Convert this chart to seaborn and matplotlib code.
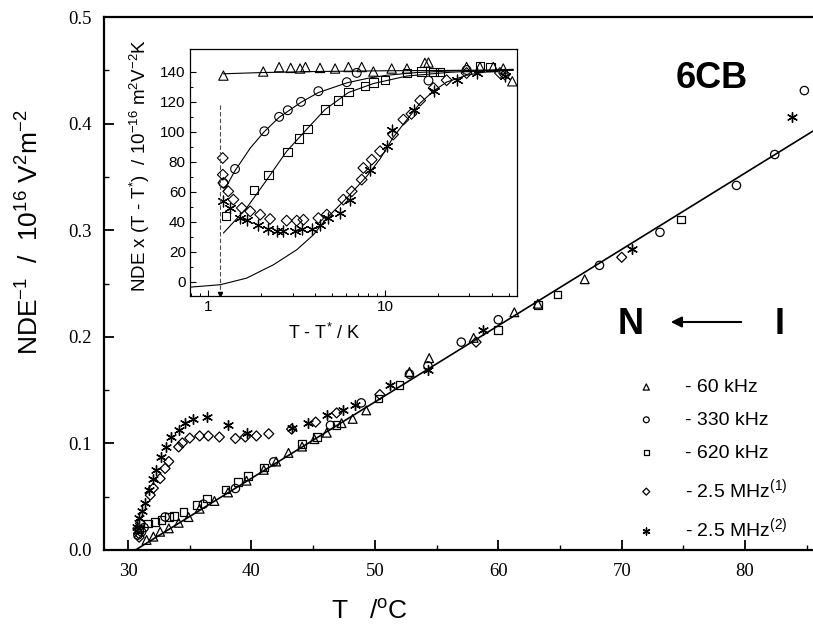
import matplotlib
matplotlib.use("Agg")
import matplotlib.pyplot as plt
import seaborn as sns

# ---- main plot: NDE^-1 vs T ----
tri_T = [31.5, 32.05, 32.6, 33.3, 34.1, 34.9, 35.8, 37.0, 38.1, 39.6, 41.0, 42.0, 43.0,
         44.1, 45.1, 46.1, 47.3, 48.2, 49.3, 52.8, 54.4, 58.0, 61.3, 63.2, 67.0]
tri_v = [0.0094, 0.0125, 0.0171, 0.0203, 0.0255, 0.0309, 0.0387, 0.046, 0.054, 0.065,
         0.0752, 0.083, 0.0911, 0.097, 0.104, 0.110, 0.119, 0.123, 0.131, 0.167, 0.180,
         0.199, 0.223, 0.231, 0.254]

circ_T = [30.8, 31.1, 31.3, 33.0, 36.1, 38.7, 41.8, 46.4, 48.9, 52.8, 54.3, 57.0, 60.0,
          68.2, 73.1, 79.3, 82.4, 84.8]
circ_v = [0.014, 0.017, 0.021, 0.031, 0.043, 0.0577, 0.0827, 0.117, 0.138, 0.165, 0.1727,
          0.195, 0.216, 0.267, 0.298, 0.342, 0.371, 0.431]

sq_T = [30.9, 31.6, 32.2, 32.7, 33.3, 33.7, 34.5, 35.6, 36.4, 37.9, 38.9, 39.7, 41.0,
        44.1, 45.3, 46.9, 50.3, 52.0, 60.0, 63.2, 64.8, 74.8]
sq_v = [0.0194, 0.025, 0.0265, 0.028, 0.031, 0.032, 0.0359, 0.042, 0.0484, 0.0568, 0.064,
        0.0693, 0.0774, 0.0993, 0.106, 0.117, 0.142, 0.155, 0.2066, 0.230, 0.2397, 0.310]

dia_T = [30.8, 30.85, 30.9, 31.0, 31.8, 32.05, 32.6, 33.0, 33.3, 34.1, 34.4, 35.0, 35.8,
         36.5, 37.4, 38.7, 39.5, 40.4, 41.4, 43.25, 45.2, 46.9, 50.4, 58.2, 70.0]
dia_v = [0.0203, 0.0156, 0.012, 0.025, 0.0515, 0.058, 0.067, 0.0765, 0.083, 0.0967, 0.1005,
         0.105, 0.107, 0.107, 0.106, 0.1046, 0.106, 0.107, 0.109, 0.1134, 0.120, 0.1286,
         0.1458, 0.195, 0.2746]

star_T = [30.7, 30.9, 31.1, 31.4, 31.7, 32.05, 32.3, 32.7, 33.1, 33.5, 34.1, 34.6, 35.3,
          36.4, 38.1, 39.6, 43.25, 44.6, 46.1, 47.4, 48.4, 51.2, 54.3, 58.8, 70.8, 83.8]
star_v = [0.0218, 0.0297, 0.037, 0.044, 0.056, 0.067, 0.075, 0.087, 0.097, 0.106, 0.113,
          0.119, 0.123, 0.1248, 0.1177, 0.110, 0.114, 0.119, 0.127, 0.131, 0.136, 0.155,
          0.1685, 0.2066, 0.282, 0.406]

fit_T = [30.6, 85.5]
fit_v = [0.0, 0.393]

# ---- inset: NDE x (T - T*) vs T - T* ----
in_tri_x = [1.22, 2.05, 2.52, 2.93, 3.31, 3.55, 4.29, 5.22, 6.21, 7.38, 8.59, 10.9, 13.3,
            16.8, 17.6, 28.9, 34.4, 40.9, 46.6, 52.4]
in_tri_y = [137.3, 140, 142.9, 142.4, 142, 143, 142.4, 142, 143, 143, 140, 142, 142,
            145.8, 146, 143, 143, 143, 142, 133.5]

in_circ_x = [1.22, 1.42, 2.08, 2.52, 2.82, 3.35, 4.2, 6.08, 6.92, 17.6, 28.9]
in_circ_y = [65.8, 75.1, 100.2, 109.8, 114.2, 119.8, 126.9, 132.9, 139.1, 134, 141]

in_sq_x = [1.26, 1.82, 2.19, 2.81, 3.27, 3.64, 4.58, 5.40, 6.21, 7.71, 8.59, 10.0, 13.3,
           16.1, 18.8, 20.5, 34.4, 39.5]
in_sq_y = [43.6, 60.9, 71.3, 86.2, 95.3, 101.8, 114.7, 120.7, 126.4, 130.4, 132.7, 134.2,
           139, 140, 139.8, 139.8, 143.6, 143]

in_dia_x = [1.21, 1.21, 1.22, 1.30, 1.39, 1.55, 1.73, 1.97, 2.24, 2.78, 3.17, 3.46, 4.2,
            4.69, 5.81, 6.48, 7.38, 7.54, 8.41, 9.37, 11.1, 12.7, 14.1, 15.8, 18.8, 22.3,
            28.9, 44.6, 47.6]
in_dia_y = [82.4, 71.3, 65.8, 60.2, 54.7, 49.1, 46.9, 44.7, 41.8, 40.7, 40.7, 41.3, 42.4,
            44.7, 54.7, 60.2, 68, 75.8, 81.3, 86.9, 98, 108, 111.8, 120.7, 129, 134.2,
            139, 139, 138]

in_star_x = [1.22, 1.33, 1.52, 1.65, 1.92, 2.19, 2.44, 2.66, 3.10, 3.38, 3.85, 4.29, 4.78,
             5.57, 6.34, 8.23, 10.2, 10.9, 14.5, 18.8, 25.4, 33.0, 47.6]
in_star_y = [53.6, 49.1, 42.4, 40.9, 38, 35.1, 33.6, 34, 34, 35.1, 35.1, 38, 42.4, 45.8,
             54.7, 74.7, 90.2, 101.3, 114.7, 126.9, 134.2, 139, 137.3]

# fit curves
fit_tri_x = [1.22, 2.0, 4.0, 10.0, 53.0]
fit_tri_y = [138.5, 139.3, 140, 140.5, 141]
fit_circ_x = [1.22, 1.42, 1.73, 2.08, 2.52, 3.35, 4.2, 6.1, 8.0, 10.2, 15.0, 25.0, 53.0]
fit_circ_y = [60, 74, 89, 100, 109.5, 119.5, 126, 132.5, 135.5, 137.5, 139.3, 140.5, 141]
fit_sq_x = [1.22, 1.65, 2.15, 2.78, 3.64, 4.58, 6.21, 8.59, 13.3, 23.3, 53.0]
fit_sq_y = [32.4, 49.1, 68, 86.9, 102, 114.7, 126, 132, 137, 139.5, 141.5]
fit_low_x = [0.79, 0.81, 1.17, 1.65, 2.34, 3.17, 3.94, 4.69, 6.08, 7.88, 9.4, 11.1, 12.7,
             15.8, 18.8, 22.3, 28.9, 36.0, 53.0]
fit_low_y = [-3.6, -3.5, -2, 2.4, 11.3, 21.3, 31.3, 42.4, 55.8, 70.2, 82, 96, 105, 119,
             127, 133, 137.5, 139.5, 141]

T_star_line = 1.16

sns.set_style("ticks")
plt.rcParams["font.family"] = ["Liberation Sans", "DejaVu Sans"]
plt.rcParams["mathtext.default"] = "regular"
for key in ["text.color", "axes.labelcolor", "xtick.color", "ytick.color", "axes.edgecolor"]:
    plt.rcParams[key] = "black"

fig = plt.figure(figsize=(8.13, 6.34), dpi=100)
ax = fig.add_axes([104 / 813, 1 - 550 / 634, 1 - 104 / 813, 533 / 634])

hollow = dict(facecolor="none", edgecolor="black", linewidth=0.9)
sns.lineplot(x=fit_T, y=fit_v, color="black", lw=1.2, ax=ax)
sns.scatterplot(x=tri_T, y=tri_v, marker="^", s=40, label="- 60 kHz", ax=ax, **hollow)
sns.scatterplot(x=circ_T, y=circ_v, marker="o", s=36, label="- 330 kHz", ax=ax, **hollow)
sns.scatterplot(x=sq_T, y=sq_v, marker="s", s=30, label="- 620 kHz", ax=ax, **hollow)
sns.scatterplot(x=dia_T, y=dia_v, marker="D", s=26, label="- 2.5 MHz$^{(1)}$", ax=ax, **hollow)
sns.scatterplot(x=star_T, y=star_v, marker=(6, 2, 0), s=50, color="black", linewidth=1.0,
                label="- 2.5 MHz$^{(2)}$", ax=ax)

ax.set_xlim(28.05, 85.5)
ax.set_ylim(0, 0.5)
ax.set_xticks([30, 40, 50, 60, 70, 80])
ax.set_xticks([35, 45, 55, 65, 75, 85], minor=True)
ax.set_yticks([0.0, 0.1, 0.2, 0.3, 0.4, 0.5])
ax.set_yticks([0.05, 0.15, 0.25, 0.35, 0.45], minor=True)
ax.set_yticklabels(["0.0", "0.1", "0.2", "0.3", "0.4", "0.5"])
ax.tick_params(which="major", direction="in", length=7, width=1.3, pad=9)
ax.tick_params(which="minor", direction="in", length=3.5, width=1.0)
for lab in ax.get_xticklabels() + ax.get_yticklabels():
    lab.set_fontfamily("Liberation Serif")
    lab.set_fontsize(13.5)
for s in ["left", "bottom", "top"]:
    ax.spines[s].set_linewidth(1.6)
ax.spines["right"].set_visible(False)
ax.set_xlabel("")
ax.set_ylabel("")

handles, labels = ax.get_legend_handles_labels()
ax.legend(handles, labels, loc="upper left", bbox_to_anchor=(0.783, 0.403),
          bbox_transform=fig.transFigure, frameon=False, fontsize=14, markerscale=0.7,
          handlelength=1.0, handletextpad=1.5, labelspacing=0.78, borderpad=0,
          borderaxespad=0)

fig.text(0.037, 1 - 232 / 634, "NDE$^{-1}$  /  10$^{16}$ V$^{2}$m$^{-2}$",
         rotation=90, ha="center", va="center", fontsize=19)
fig.text(369 / 813, 1 - 612 / 634, "T   /$^{o}$C", ha="center", va="center", fontsize=19)
fig.text(712 / 813, 1 - 78 / 634, "6CB", ha="center", va="center", fontsize=26,
         fontweight="bold")
fig.text(631 / 813, 1 - 324 / 634, "N", ha="center", va="center", fontsize=26,
         fontweight="bold")
fig.text(780 / 813, 1 - 324 / 634, "I", ha="center", va="center", fontsize=26,
         fontweight="bold")
ax.annotate("", xy=(668 / 813, 1 - 322 / 634), xytext=(744 / 813, 1 - 322 / 634),
            xycoords="figure fraction", textcoords="figure fraction",
            arrowprops=dict(arrowstyle="-|>", color="black", lw=1.5, mutation_scale=16))

# ---- inset ----
axin = fig.add_axes([190 / 813, 1 - 296 / 634, 327 / 813, 247 / 634])
axin.set_xscale("log")
thin = dict(color="black", lw=0.8)
sns.lineplot(x=fit_tri_x, y=fit_tri_y, ax=axin, **thin)
sns.lineplot(x=fit_circ_x, y=fit_circ_y, ax=axin, **thin)
sns.lineplot(x=fit_sq_x, y=fit_sq_y, ax=axin, **thin)
sns.lineplot(x=fit_low_x, y=fit_low_y, ax=axin, **thin)
hollow_in = dict(facecolor="none", edgecolor="black", linewidth=0.8)
sns.scatterplot(x=in_tri_x, y=in_tri_y, marker="^", s=45, ax=axin, **hollow_in)
sns.scatterplot(x=in_circ_x, y=in_circ_y, marker="o", s=40, ax=axin, **hollow_in)
sns.scatterplot(x=in_sq_x, y=in_sq_y, marker="s", s=36, ax=axin, **hollow_in)
sns.scatterplot(x=in_dia_x, y=in_dia_y, marker="D", s=30, ax=axin, **hollow_in)
sns.scatterplot(x=in_star_x, y=in_star_y, marker=(6, 2, 0), s=60, color="black",
                linewidth=0.9, ax=axin)
axin.plot([T_star_line, T_star_line], [-9.5, 119], color="0.3", lw=0.8, ls=(0, (4, 2)))
axin.plot([T_star_line], [-8], marker="v", ms=3, color="black")

axin.set_xlim(0.79, 55.7)
axin.set_ylim(-9.5, 155)
axin.set_xticks([1, 10])
axin.set_xticklabels(["1", "10"])
axin.set_yticks([0, 20, 40, 60, 80, 100, 120, 140])
axin.set_yticks([10, 30, 50, 70, 90, 110, 130], minor=True)
axin.tick_params(which="major", direction="in", length=4, width=0.8, labelsize=11, pad=3)
axin.tick_params(which="minor", direction="in", length=2.5, width=0.7)
for s in axin.spines.values():
    s.set_linewidth(0.9)
axin.set_xlabel("T - T$^{*}$ / K", fontsize=13)
axin.xaxis.set_label_coords(0.41, -0.11)
axin.set_ylabel("NDE x (T - T$^{*}$)  / 10$^{-16}$ m$^{2}$V$^{-2}$K", fontsize=13.5)
axin.yaxis.set_label_coords(-0.115, 0.53)

fig.savefig("out.png", dpi=100)
